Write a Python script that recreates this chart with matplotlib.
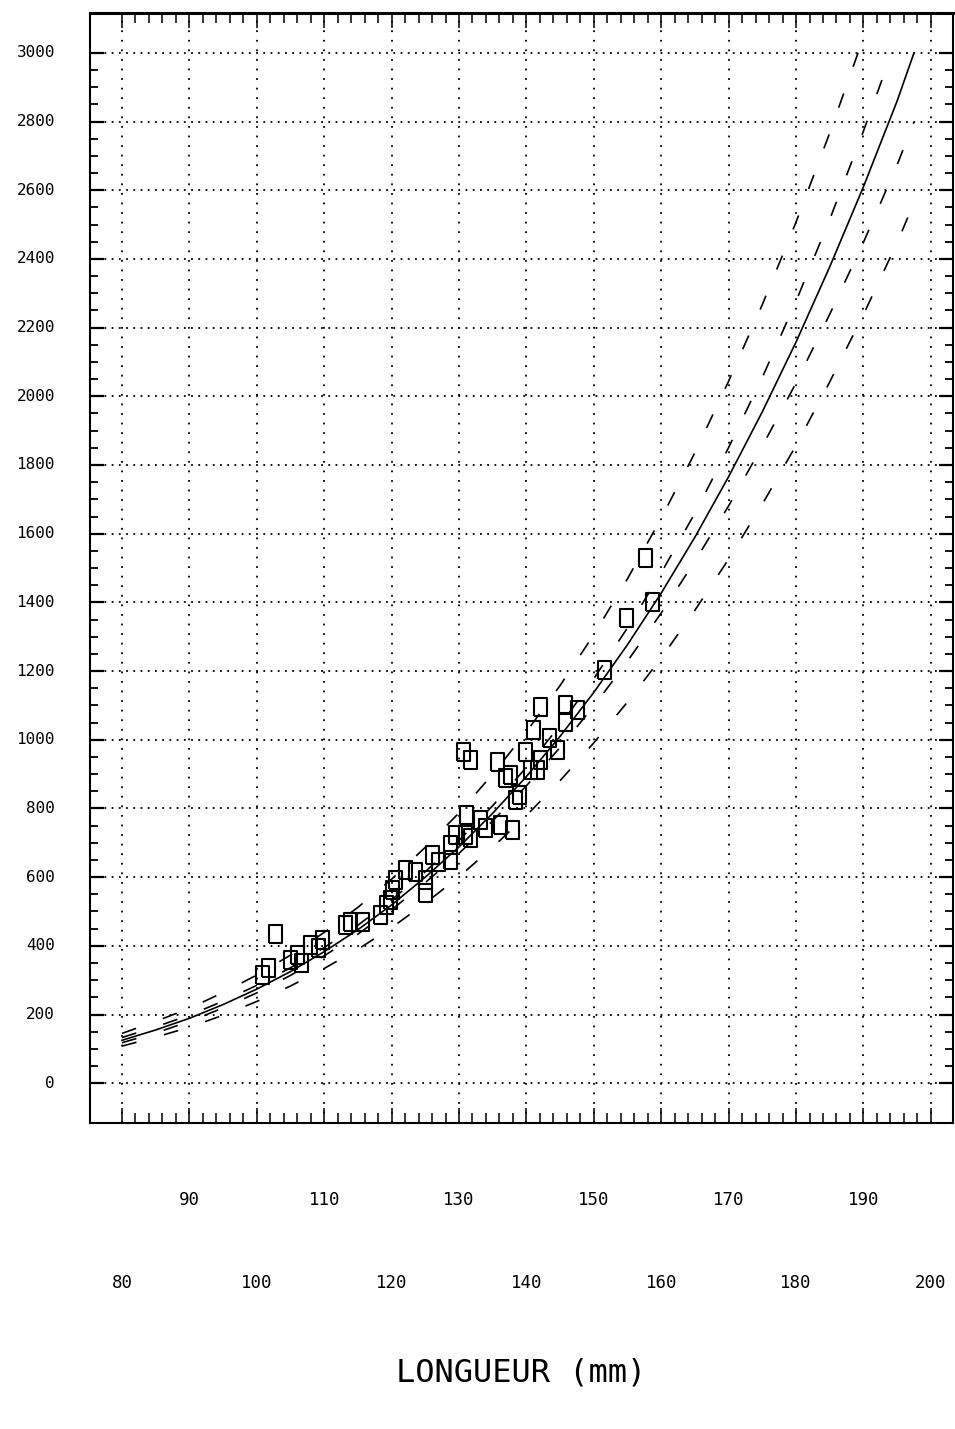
"""
Weight vs length: observed points, fitted power curve, confidence and
prediction bands (dashed). Reproduction of an old plotter chart.
"""
import matplotlib
matplotlib.use("Agg")
import matplotlib.pyplot as plt
from matplotlib.ticker import FixedLocator
from matplotlib.transforms import blended_transform_factory

# --- observed fish (length mm, weight) ---
obs_len = [102.7, 101.7, 100.8, 104.9, 106.0, 106.5, 107.9, 109.1, 109.7,
           113.1, 113.8, 115.6, 118.3, 119.2, 120.1, 119.8, 120.5, 122.0,
           123.5, 125.0, 125.0, 126.0, 126.9, 128.7, 128.7, 129.4, 130.9,
           130.6, 131.6, 131.0, 131.6, 133.1, 133.9, 135.6, 136.1, 136.8,
           137.6, 138.3, 137.9, 138.9, 139.8, 140.5, 141.0, 141.6, 142.0,
           142.0, 143.4, 144.5, 145.7, 145.7, 147.5, 151.5, 154.8, 157.6,
           158.6]
obs_wt = [434, 335, 314, 358, 373, 349, 402, 393, 416,
          460, 469, 469, 489, 518, 562, 533, 591, 620,
          614, 553, 591, 664, 643, 649, 693, 722, 722,
          964, 940, 780, 713, 766, 742, 934, 751, 888,
          897, 824, 737, 838, 964, 911, 1028, 911, 1095,
          940, 1004, 969, 1051, 1100, 1086, 1202, 1354, 1528,
          1400]

# --- fitted curve ---
fit_len = [80, 85, 90, 95, 100, 105, 110, 115, 120, 125, 130, 135, 140,
           145, 150, 155, 160, 165, 170, 175, 180, 185, 190, 195, 197.5]
fit_wt = [125, 155, 189, 229, 274, 325, 383, 447, 519, 600, 688, 786, 893,
          1010, 1138, 1277, 1427, 1590, 1766, 1955, 2158, 2377, 2610, 2860,
          3000]

# inner band (mean) -- upper one stops where it leaves the 3000 frame
ci_up_len = [80, 85, 90, 95, 100, 105, 110, 115, 120, 125, 130, 135, 140,
             145, 150, 155, 160, 165, 170, 175, 180, 185, 190, 194.2]
ci_up_wt = [133, 164, 198, 239, 285, 336, 395, 460, 534, 616, 707, 808, 920,
            1042, 1178, 1326, 1486, 1660, 1851, 2055, 2277, 2515, 2772, 3000]
ci_lo_wt = [118, 146, 180, 219, 263, 314, 371, 434, 505, 584, 669, 764, 866,
            978, 1098, 1229, 1369, 1520, 1681, 1855, 2039, 2239, 2448, 2674,
            2799]

# outer band (prediction)
pi_up_len = [80, 85, 90, 95, 100, 105, 110, 115, 120, 125, 130, 135, 140,
             145, 150, 155, 160, 165, 170, 175, 180, 185, 189.2]
pi_up_wt = [145, 180, 218, 264, 315, 373, 439, 512, 594, 687, 787, 900, 1023,
            1158, 1306, 1469, 1645, 1836, 2044, 2267, 2507, 2767, 3000]
pi_lo_wt = [108, 134, 163, 198, 238, 283, 334, 390, 453, 524, 601, 687, 779,
            881, 991, 1110, 1238, 1377, 1526, 1686, 1857, 2042, 2238, 2447,
            2564]

# axis labelling
x_major = list(range(80, 201, 10))
x_minor = list(range(80, 201, 2))
y_major = list(range(0, 3001, 200))
y_minor = list(range(0, 3001, 50))
x_labels_row1 = [90, 110, 130, 150, 170, 190]
x_labels_row2 = [80, 100, 120, 140, 160, 180, 200]
x_title = "LONGUEUR (mm)"

MONO = "DejaVu Sans Mono"
DASH = (0, (9, 17))
SQUARE = [(-0.36, -0.5), (0.36, -0.5), (0.36, 0.5), (-0.36, 0.5), (-0.36, -0.5)]


def main():
    fig = plt.figure(figsize=(9.55, 14.29), dpi=100)
    ax = fig.add_axes([0.0942, 0.2141, 0.9038, 0.7768])
    ax.set_xlim(75.25, 203.3)
    ax.set_ylim(-116, 3116)

    # ticks only inside the 80-200 / 0-3000 range
    ax.xaxis.set_major_locator(FixedLocator(x_major))
    ax.xaxis.set_minor_locator(FixedLocator(x_minor))
    ax.yaxis.set_major_locator(FixedLocator(y_major))
    ax.yaxis.set_minor_locator(FixedLocator(y_minor))

    # dotted grid
    ax.xaxis.grid(True, color="black", lw=1.3, linestyle=(0, (1, 4.3)))
    ax.yaxis.grid(True, color="black", lw=1.3, linestyle=(0, (1, 3)))
    ax.set_axisbelow(True)

    # bands, curve, points
    ax.plot(pi_up_len, pi_up_wt, color="black", lw=1.2, linestyle=DASH)
    ax.plot(fit_len, pi_lo_wt, color="black", lw=1.2, linestyle=DASH)
    ax.plot(ci_up_len, ci_up_wt, color="black", lw=1.2, linestyle=DASH)
    ax.plot(fit_len, ci_lo_wt, color="black", lw=1.2, linestyle=DASH)
    ax.plot(fit_len, fit_wt, color="black", lw=1.2)
    ax.plot(obs_len, obs_wt, linestyle="none", marker=SQUARE, markersize=13,
            markerfacecolor="none", markeredgecolor="black", markeredgewidth=1.5)

    # ticks inward on all sides, labels drawn by hand below
    ax.tick_params(axis="x", which="major", direction="in", length=11,
                   width=1.1, top=True, bottom=True, labelbottom=False)
    ax.tick_params(axis="x", which="minor", direction="in", length=7,
                   width=1.1, top=True, bottom=True)
    ax.tick_params(axis="y", which="major", direction="in", length=10,
                   width=1.6, left=True, right=True, labelleft=False)
    ax.tick_params(axis="y", which="minor", direction="in", length=6,
                   width=1.3, left=True, right=True)
    for side in ["left", "bottom", "right"]:
        ax.spines[side].set_linewidth(1.5)
    ax.spines["top"].set_linewidth(2.2)

    # two staggered rows of x labels
    xt = blended_transform_factory(ax.transData, fig.transFigure)
    for v in x_labels_row1:
        ax.text(v, 0.1603, str(v), transform=xt, ha="center", va="center",
                family=MONO, fontsize=12.5)
    for v in x_labels_row2:
        ax.text(v, 0.1022, str(v), transform=xt, ha="center", va="center",
                family=MONO, fontsize=12.5)

    yt = blended_transform_factory(fig.transFigure, ax.transData)
    for v in y_major:
        ax.text(0.0576, v, str(v), transform=yt, ha="right", va="center",
                family=MONO, fontsize=11.5)

    fig.text(0.546, 0.0392, x_title, ha="center", va="center",
             family=MONO, fontsize=23)

    fig.savefig("out.png", dpi=100, facecolor="white")
    plt.close(fig)


if __name__ == "__main__":
    main()
